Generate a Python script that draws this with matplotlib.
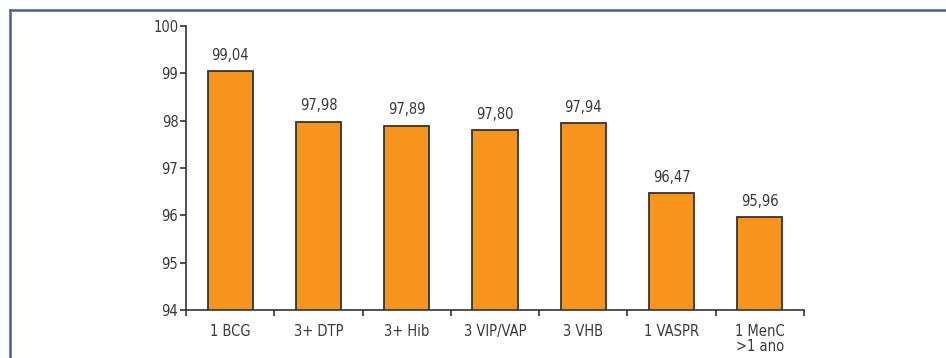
import matplotlib
matplotlib.use("Agg")
import matplotlib.pyplot as plt
from matplotlib.lines import Line2D

# vacinas e cobertura (%)
categories = ["1 BCG", "3+ DTP", "3+ Hib", "3 VIP/VAP", "3 VHB", "1 VASPR", "1 MenC\n>1 ano"]
values = [99.04, 97.98, 97.89, 97.80, 97.94, 96.47, 95.96]
value_labels = ["99,04", "97,98", "97,89", "97,80", "97,94", "96,47", "95,96"]
yticks = [94, 95, 96, 97, 98, 99, 100]

# fonte estreita
plt.rcParams['font.family'] = ['DejaVu Sans']
plt.rcParams['font.stretch'] = 'condensed'
text_color = '#3a3a3a'
fs = 10.5

fig = plt.figure(figsize=(9.46, 3.58), dpi=100)
ax = fig.add_axes([0.1966, 0.1333, 0.6533, 0.7949])

x = list(range(len(categories)))
ax.bar(x, values, width=0.51, color='#F7941D', edgecolor='#333333', linewidth=1.3, zorder=2)

for xi, v, lab in zip(x, values, value_labels):
    ax.annotate(lab, (xi, v), xytext=(0, 6), textcoords='offset points',
                ha='center', va='bottom', fontsize=fs, color=text_color)

ax.set_ylim(94, 100)
ax.set_xlim(-0.5, len(categories) - 0.5)
ax.set_yticks(yticks)
ax.set_yticklabels([str(t) for t in yticks], fontsize=fs, color=text_color)

# ticks on the boundaries, labels in the middle
ax.set_xticks([i - 0.5 for i in range(len(categories) + 1)])
ax.set_xticklabels([])
ax.set_xticks(x, minor=True)
ax.set_xticklabels(categories, minor=True, fontsize=fs, color=text_color, va='top', linespacing=1.0)
ax.tick_params(axis='x', which='major', direction='out', length=4, width=1.2, color='#333333')
ax.tick_params(axis='x', which='minor', length=0, pad=10)
ax.tick_params(axis='y', direction='out', length=4, width=1.2, color='#333333', pad=1.5)

for s in ['top', 'right']:
    ax.spines[s].set_visible(False)
for s in ['left', 'bottom']:
    ax.spines[s].set_color('#333333')
    ax.spines[s].set_linewidth(1.2)

# moldura azul
frame_color = '#4c5f8e'
fig.add_artist(Line2D([10 / 946, 1.0], [1 - 10 / 358, 1 - 10 / 358], transform=fig.transFigure,
                      color=frame_color, linewidth=1.8))
fig.add_artist(Line2D([10 / 946, 10 / 946], [0, 1 - 10 / 358], transform=fig.transFigure,
                      color=frame_color, linewidth=1.8))

fig.savefig("out.png", dpi=100)
